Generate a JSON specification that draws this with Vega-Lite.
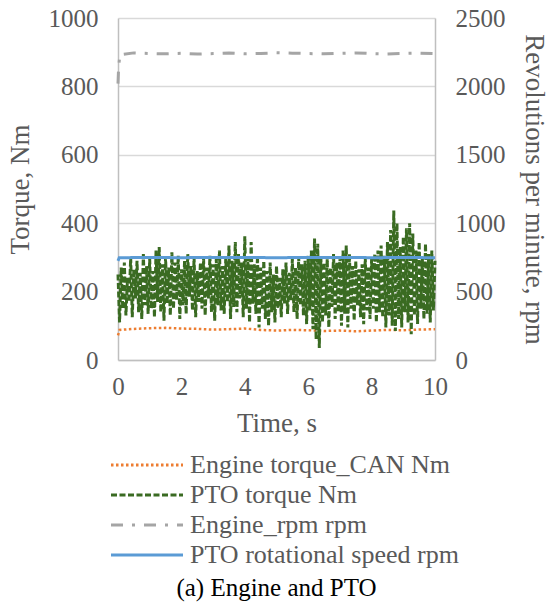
{
  "$schema": "https://vega.github.io/schema/vega-lite/v6.json",
  "autosize": {"type": "none"},
  "padding": {"left": 118, "top": 18, "right": 116, "bottom": 247},
  "width": 317,
  "height": 342,
  "background": "white",
  "title": {
    "text": "(a)  Engine  and  PTO",
    "orient": "bottom",
    "anchor": "middle",
    "font": "Liberation Serif",
    "fontSize": 25,
    "fontWeight": "normal",
    "color": "#000000",
    "offset": 8
  },
  "datasets": {
    "engTorque": [
      {"t": 0, "v": 72}, {"t": 0.05, "v": 88}, {"t": 0.5, "v": 91}, {"t": 1, "v": 93}, {"t": 1.5, "v": 94},
      {"t": 2, "v": 92}, {"t": 2.5, "v": 91}, {"t": 3, "v": 89}, {"t": 3.5, "v": 90}, {"t": 4, "v": 92},
      {"t": 4.5, "v": 88}, {"t": 5, "v": 86}, {"t": 5.5, "v": 88}, {"t": 6, "v": 87}, {"t": 6.5, "v": 85},
      {"t": 7, "v": 86}, {"t": 7.5, "v": 84}, {"t": 8, "v": 86}, {"t": 8.5, "v": 88}, {"t": 9, "v": 87},
      {"t": 9.5, "v": 89}, {"t": 10, "v": 90}
    ],
    "ptoTorque": [
      {"t": 0.00, "v": 250}, {"t": 0.05, "v": 110}, {"t": 0.10, "v": 270}, {"t": 0.15, "v": 150}, {"t": 0.20, "v": 285},
      {"t": 0.25, "v": 130}, {"t": 0.30, "v": 240}, {"t": 0.35, "v": 170}, {"t": 0.40, "v": 300}, {"t": 0.45, "v": 125},
      {"t": 0.50, "v": 265}, {"t": 0.55, "v": 180}, {"t": 0.60, "v": 290}, {"t": 0.65, "v": 140}, {"t": 0.70, "v": 255},
      {"t": 0.75, "v": 120}, {"t": 0.80, "v": 310}, {"t": 0.85, "v": 160}, {"t": 0.90, "v": 275}, {"t": 0.95, "v": 135},
      {"t": 1.00, "v": 295}, {"t": 1.05, "v": 150}, {"t": 1.10, "v": 260}, {"t": 1.15, "v": 125}, {"t": 1.20, "v": 320},
      {"t": 1.25, "v": 170}, {"t": 1.30, "v": 330}, {"t": 1.35, "v": 140}, {"t": 1.40, "v": 280}, {"t": 1.45, "v": 115},
      {"t": 1.50, "v": 300}, {"t": 1.55, "v": 165}, {"t": 1.60, "v": 270}, {"t": 1.65, "v": 130}, {"t": 1.70, "v": 315},
      {"t": 1.75, "v": 150}, {"t": 1.80, "v": 285}, {"t": 1.85, "v": 175}, {"t": 1.90, "v": 305}, {"t": 1.95, "v": 120},
      {"t": 2.00, "v": 265}, {"t": 2.05, "v": 160}, {"t": 2.10, "v": 290}, {"t": 2.15, "v": 135}, {"t": 2.20, "v": 310},
      {"t": 2.25, "v": 185}, {"t": 2.30, "v": 275}, {"t": 2.35, "v": 145}, {"t": 2.40, "v": 300}, {"t": 2.45, "v": 125},
      {"t": 2.50, "v": 260}, {"t": 2.55, "v": 170}, {"t": 2.60, "v": 285}, {"t": 2.65, "v": 150}, {"t": 2.70, "v": 295},
      {"t": 2.75, "v": 130}, {"t": 2.80, "v": 270}, {"t": 2.85, "v": 180}, {"t": 2.90, "v": 305}, {"t": 2.95, "v": 140},
      {"t": 3.00, "v": 280}, {"t": 3.05, "v": 115}, {"t": 3.10, "v": 295}, {"t": 3.15, "v": 160}, {"t": 3.20, "v": 320},
      {"t": 3.25, "v": 145}, {"t": 3.30, "v": 275}, {"t": 3.35, "v": 135}, {"t": 3.40, "v": 300}, {"t": 3.45, "v": 170},
      {"t": 3.50, "v": 335}, {"t": 3.55, "v": 120}, {"t": 3.60, "v": 290}, {"t": 3.65, "v": 155}, {"t": 3.70, "v": 345},
      {"t": 3.75, "v": 140}, {"t": 3.80, "v": 310}, {"t": 3.85, "v": 180}, {"t": 3.90, "v": 285}, {"t": 3.95, "v": 125},
      {"t": 4.00, "v": 362}, {"t": 4.05, "v": 150}, {"t": 4.10, "v": 300}, {"t": 4.15, "v": 110}, {"t": 4.20, "v": 345},
      {"t": 4.25, "v": 165}, {"t": 4.30, "v": 280}, {"t": 4.35, "v": 135}, {"t": 4.40, "v": 305}, {"t": 4.45, "v": 95},
      {"t": 4.50, "v": 270}, {"t": 4.55, "v": 150}, {"t": 4.60, "v": 290}, {"t": 4.65, "v": 120}, {"t": 4.70, "v": 260},
      {"t": 4.75, "v": 100}, {"t": 4.80, "v": 285}, {"t": 4.85, "v": 140}, {"t": 4.90, "v": 250}, {"t": 4.95, "v": 110},
      {"t": 5.00, "v": 275}, {"t": 5.05, "v": 150}, {"t": 5.10, "v": 240}, {"t": 5.15, "v": 125}, {"t": 5.20, "v": 265},
      {"t": 5.25, "v": 165}, {"t": 5.30, "v": 285}, {"t": 5.35, "v": 135}, {"t": 5.40, "v": 255}, {"t": 5.45, "v": 175},
      {"t": 5.50, "v": 295}, {"t": 5.55, "v": 140}, {"t": 5.60, "v": 270}, {"t": 5.65, "v": 120}, {"t": 5.70, "v": 300},
      {"t": 5.75, "v": 160}, {"t": 5.80, "v": 280}, {"t": 5.85, "v": 130}, {"t": 5.90, "v": 290}, {"t": 5.95, "v": 105},
      {"t": 6.00, "v": 305}, {"t": 6.05, "v": 145}, {"t": 6.10, "v": 320}, {"t": 6.15, "v": 90}, {"t": 6.20, "v": 355},
      {"t": 6.25, "v": 60}, {"t": 6.30, "v": 340}, {"t": 6.35, "v": 35}, {"t": 6.40, "v": 300}, {"t": 6.45, "v": 110},
      {"t": 6.50, "v": 285}, {"t": 6.55, "v": 130}, {"t": 6.60, "v": 295}, {"t": 6.65, "v": 95}, {"t": 6.70, "v": 270},
      {"t": 6.75, "v": 155}, {"t": 6.80, "v": 310}, {"t": 6.85, "v": 120}, {"t": 6.90, "v": 285}, {"t": 6.95, "v": 140},
      {"t": 7.00, "v": 300}, {"t": 7.05, "v": 100}, {"t": 7.10, "v": 320}, {"t": 7.15, "v": 135}, {"t": 7.20, "v": 335},
      {"t": 7.25, "v": 95}, {"t": 7.30, "v": 310}, {"t": 7.35, "v": 150}, {"t": 7.40, "v": 275}, {"t": 7.45, "v": 115},
      {"t": 7.50, "v": 290}, {"t": 7.55, "v": 160}, {"t": 7.60, "v": 265}, {"t": 7.65, "v": 125}, {"t": 7.70, "v": 280},
      {"t": 7.75, "v": 105}, {"t": 7.80, "v": 300}, {"t": 7.85, "v": 145}, {"t": 7.90, "v": 270}, {"t": 7.95, "v": 120},
      {"t": 8.00, "v": 295}, {"t": 8.05, "v": 150}, {"t": 8.10, "v": 310}, {"t": 8.15, "v": 110}, {"t": 8.20, "v": 320},
      {"t": 8.25, "v": 140}, {"t": 8.30, "v": 335}, {"t": 8.35, "v": 125}, {"t": 8.40, "v": 305}, {"t": 8.45, "v": 95},
      {"t": 8.50, "v": 345}, {"t": 8.55, "v": 130}, {"t": 8.60, "v": 380}, {"t": 8.65, "v": 100}, {"t": 8.70, "v": 437},
      {"t": 8.75, "v": 85}, {"t": 8.80, "v": 400}, {"t": 8.85, "v": 120}, {"t": 8.90, "v": 330}, {"t": 8.95, "v": 95},
      {"t": 9.00, "v": 360}, {"t": 9.05, "v": 140}, {"t": 9.10, "v": 385}, {"t": 9.15, "v": 110}, {"t": 9.20, "v": 400},
      {"t": 9.25, "v": 75}, {"t": 9.30, "v": 370}, {"t": 9.35, "v": 130}, {"t": 9.40, "v": 320}, {"t": 9.45, "v": 105},
      {"t": 9.50, "v": 345}, {"t": 9.55, "v": 150}, {"t": 9.60, "v": 300}, {"t": 9.65, "v": 120}, {"t": 9.70, "v": 340},
      {"t": 9.75, "v": 135}, {"t": 9.80, "v": 310}, {"t": 9.85, "v": 110}, {"t": 9.90, "v": 320}, {"t": 9.95, "v": 145},
      {"t": 10.00, "v": 290}
    ],
    "engRpm": [
      {"t": 0, "v": 2020}, {"t": 0.02, "v": 2140}, {"t": 0.06, "v": 2232}, {"t": 0.5, "v": 2245}, {"t": 1, "v": 2240},
      {"t": 1.5, "v": 2238}, {"t": 2, "v": 2242}, {"t": 2.5, "v": 2236}, {"t": 3, "v": 2240}, {"t": 3.5, "v": 2244},
      {"t": 4, "v": 2238}, {"t": 4.5, "v": 2241}, {"t": 5, "v": 2246}, {"t": 5.5, "v": 2243}, {"t": 6, "v": 2240},
      {"t": 6.5, "v": 2238}, {"t": 7, "v": 2242}, {"t": 7.5, "v": 2245}, {"t": 8, "v": 2240}, {"t": 8.5, "v": 2237},
      {"t": 9, "v": 2241}, {"t": 9.5, "v": 2243}, {"t": 10, "v": 2239}
    ],
    "ptoRpm": [
      {"t": 0, "v": 725}, {"t": 0.04, "v": 748}, {"t": 1, "v": 749}, {"t": 2, "v": 748}, {"t": 3, "v": 750},
      {"t": 4, "v": 749}, {"t": 5, "v": 748}, {"t": 6, "v": 749}, {"t": 7, "v": 750}, {"t": 8, "v": 748},
      {"t": 9, "v": 749}, {"t": 10, "v": 748}
    ]
  },
  "layer": [
    {
      "layer": [
        {
          "data": {"name": "engTorque"},
          "mark": {"type": "line", "strokeWidth": 2.5, "strokeCap": "butt"},
          "encoding": {
            "x": {"field": "t", "type": "quantitative"},
            "y": {"field": "v", "type": "quantitative"},
            "color": {"datum": "Engine torque_CAN Nm"},
            "strokeDash": {"datum": "Engine torque_CAN Nm"}
          }
        },
        {
          "data": {"name": "ptoTorque"},
          "mark": {"type": "line", "strokeWidth": 3, "strokeCap": "butt"},
          "encoding": {
            "x": {"field": "t", "type": "quantitative"},
            "y": {"field": "v", "type": "quantitative"},
            "color": {"datum": "PTO torque Nm"},
            "strokeDash": {"datum": "PTO torque Nm"}
          }
        }
      ],
      "encoding": {
        "x": {
          "field": "t", "type": "quantitative",
          "scale": {"domain": [0, 10], "nice": false},
          "axis": {"values": [0, 2, 4, 6, 8, 10], "title": "Time, s", "grid": false, "format": "d"}
        },
        "y": {
          "field": "v", "type": "quantitative",
          "scale": {"domain": [0, 1000], "nice": false},
          "axis": {"values": [0, 200, 400, 600, 800, 1000], "title": "Torque, Nm", "grid": true, "orient": "left", "format": "d", "titlePadding": 14}
        }
      }
    },
    {
      "layer": [
        {
          "data": {"name": "engRpm"},
          "mark": {"type": "line", "strokeWidth": 3, "strokeCap": "butt"},
          "encoding": {
            "x": {"field": "t", "type": "quantitative"},
            "y": {"field": "v", "type": "quantitative"},
            "color": {"datum": "Engine_rpm rpm"},
            "strokeDash": {"datum": "Engine_rpm rpm"}
          }
        },
        {
          "data": {"name": "ptoRpm"},
          "mark": {"type": "line", "strokeWidth": 3, "strokeCap": "butt"},
          "encoding": {
            "x": {"field": "t", "type": "quantitative"},
            "y": {"field": "v", "type": "quantitative"},
            "color": {"datum": "PTO rotational speed rpm"},
            "strokeDash": {"datum": "PTO rotational speed rpm"}
          }
        }
      ],
      "encoding": {
        "y": {
          "field": "v", "type": "quantitative",
          "scale": {"domain": [0, 2500], "nice": false},
          "axis": {"values": [0, 500, 1000, 1500, 2000, 2500], "title": "Revolutions per minute, rpm", "grid": false, "orient": "right", "format": "d", "titlePadding": 14}
        }
      }
    }
  ],
  "resolve": {"scale": {"y": "independent"}},
  "encoding": {
    "color": {
      "type": "nominal",
      "scale": {
        "domain": ["Engine torque_CAN Nm", "PTO torque Nm", "Engine_rpm rpm", "PTO rotational speed rpm"],
        "range": ["#ed7d31", "#3a6b22", "#a5a5a5", "#5b9bd5"]
      },
      "legend": {"title": null}
    },
    "strokeDash": {
      "type": "nominal",
      "scale": {
        "domain": ["Engine torque_CAN Nm", "PTO torque Nm", "Engine_rpm rpm", "PTO rotational speed rpm"],
        "range": [[2.5, 2.5], [6, 2.5], [12, 9, 3, 9], [1, 0]]
      },
      "legend": {"title": null}
    }
  },
  "config": {
    "view": {"stroke": null},
    "axis": {
      "domainColor": "#bfbfbf",
      "domainWidth": 1.5,
      "ticks": false,
      "gridColor": "#d9d9d9",
      "gridWidth": 1.5,
      "labelFont": "Liberation Serif",
      "labelFontSize": 25,
      "labelColor": "#595959",
      "titleFont": "Liberation Serif",
      "titleFontSize": 27,
      "titleFontWeight": "normal",
      "titleColor": "#595959"
    },
    "axisY": {"labelPadding": 20},
    "axisX": {"labelPadding": 14, "titlePadding": 11, "labelFlush": false},
    "legend": {
      "orient": "none",
      "legendX": 16,
      "legendY": 434,
      "direction": "vertical",
      "padding": 0,
      "symbolType": "M-4,0H4",
      "symbolSize": 324,
      "symbolStrokeWidth": 3,
      "labelFont": "Liberation Serif",
      "labelFontSize": 26,
      "labelColor": "#595959",
      "labelOffset": 30,
      "rowPadding": 4,
      "labelLimit": 400
    }
  }
}
